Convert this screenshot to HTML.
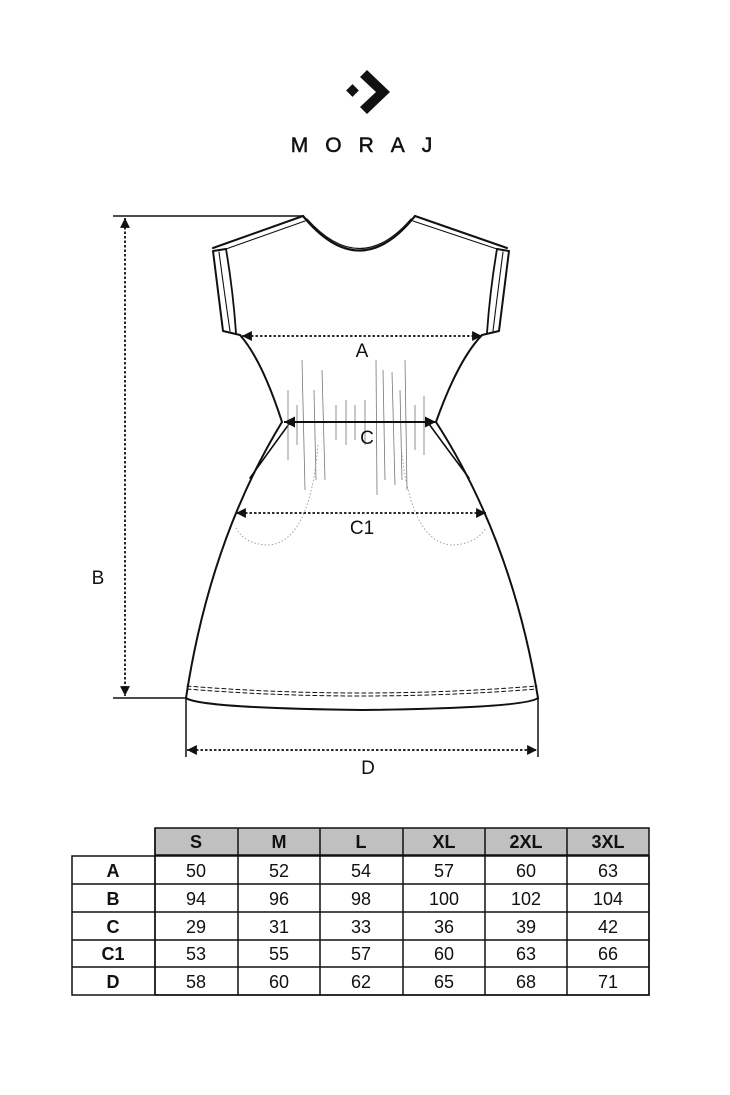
<!DOCTYPE html>
<html><head><meta charset="utf-8"><style>
html,body{margin:0;padding:0;background:#fff;}
body{width:730px;height:1095px;position:relative;overflow:hidden;font-family:"Liberation Sans",Arial,sans-serif;}
</style></head><body>
<svg width="730" height="1095" viewBox="0 0 730 1095" xmlns="http://www.w3.org/2000/svg" style="position:absolute;left:0;top:0">
<defs>
<marker id="ar" viewBox="0 0 10 10" refX="10" refY="5" markerWidth="5.5" markerHeight="5.5" orient="auto-start-reverse"><path d="M0,0 L10,5 L0,10 z" fill="#111"/></marker>
</defs>
<!-- logo -->
<rect x="348" y="86" width="9" height="9" fill="#111" transform="rotate(45 352.5 90.5)"/>
<path d="M367,70 L390,92 L367,114 L360,107 L376,92 L360,77 Z" fill="#111"/>
<text x="370" y="152" font-size="21" text-anchor="middle" letter-spacing="17" fill="#111" stroke="#111" stroke-width="0.5" font-family="Liberation Sans, sans-serif">MORAJ</text>

<g fill="none" stroke="#111" stroke-linecap="round" stroke-linejoin="round">
<path d="M303,216 Q360,285 415,216" stroke-width="2.2"/>
<path d="M307,219 Q360,278 411,219" stroke-width="1.2"/>
<path d="M303,216 L213,248" stroke-width="2"/>
<path d="M305,221 L226,249" stroke-width="1.1"/>
<path d="M415,216 L507,248" stroke-width="2"/>
<path d="M413,221 L497,249" stroke-width="1.1"/>
<path d="M226,249 L213,251 L223,331 L240,335" stroke-width="2"/>
<path d="M226,249 Q233,290 236,333" stroke-width="1.8"/>
<path d="M219,252 Q224,290 230,331" stroke-width="1.1"/>
<path d="M497,249 L509,251 L499,331 L482,335" stroke-width="2"/>
<path d="M497,249 Q490,290 487,333" stroke-width="1.8"/>
<path d="M503,252 Q498,290 493,331" stroke-width="1.1"/>
<path d="M240,335 Q262,360 282,422" stroke-width="2"/>
<path d="M482,335 Q458,360 436,422" stroke-width="2"/>
<path d="M282,422 Q210,540 186,698" stroke-width="2"/>
<path d="M436,422 Q512,540 538,698" stroke-width="2"/>
<path d="M289,424 Q270,450 250,478" stroke-width="1.6"/>
<path d="M429,424 Q448,450 469,478" stroke-width="1.6"/>
<path d="M186,698 Q200,708 362,710 Q525,708 538,698" stroke-width="2"/>
<path d="M187,686 Q360,700 537,686" stroke-width="1" stroke-dasharray="4,3"/>
<path d="M187,689 Q360,703 537,689" stroke-width="1" stroke-dasharray="4,3"/>
</g>
<g stroke="#777" stroke-width="0.8">
<line x1="288" y1="390" x2="288" y2="460"/><line x1="297" y1="405" x2="297" y2="445"/>
<line x1="302" y1="360" x2="305" y2="490"/><line x1="314" y1="390" x2="316" y2="480"/>
<line x1="322" y1="370" x2="325" y2="480"/><line x1="336" y1="405" x2="336" y2="440"/>
<line x1="346" y1="400" x2="346" y2="445"/><line x1="355" y1="405" x2="355" y2="440"/>
<line x1="365" y1="400" x2="365" y2="445"/><line x1="376" y1="360" x2="377" y2="495"/>
<line x1="383" y1="370" x2="385" y2="480"/><line x1="392" y1="372" x2="395" y2="485"/>
<line x1="400" y1="390" x2="402" y2="480"/><line x1="405" y1="360" x2="407" y2="490"/>
<line x1="415" y1="405" x2="415" y2="450"/><line x1="424" y1="396" x2="424" y2="455"/>
</g>
<g fill="none" stroke="#999" stroke-width="0.9" stroke-dasharray="1.5,2">
<path d="M318,445 Q310,540 270,545 Q245,545 236,528"/>
<path d="M401,445 Q410,540 450,545 Q475,545 486,528"/>
</g>
<g stroke="#111" fill="none">
<line x1="113" y1="216" x2="303" y2="216" stroke-width="1.5"/>
<line x1="113" y1="698" x2="186" y2="698" stroke-width="1.5"/>
<line x1="125" y1="218" x2="125" y2="696" stroke-width="1.8" stroke-dasharray="2.5,2" marker-start="url(#ar)" marker-end="url(#ar)"/>
<line x1="242" y1="336" x2="482" y2="336" stroke-width="1.8" stroke-dasharray="2.5,2" marker-start="url(#ar)" marker-end="url(#ar)"/>
<line x1="284" y1="422" x2="436" y2="422" stroke-width="2" marker-start="url(#ar)" marker-end="url(#ar)"/>
<line x1="236" y1="513" x2="486" y2="513" stroke-width="1.8" stroke-dasharray="2.5,2" marker-start="url(#ar)" marker-end="url(#ar)"/>
<line x1="186" y1="698" x2="186" y2="757" stroke-width="1.5"/>
<line x1="538" y1="698" x2="538" y2="757" stroke-width="1.5"/>
<line x1="187" y1="750" x2="537" y2="750" stroke-width="1.8" stroke-dasharray="2.5,2" marker-start="url(#ar)" marker-end="url(#ar)"/>
</g>
<g font-size="19" fill="#111" text-anchor="middle">
<text x="98" y="584">B</text>
<text x="362" y="357">A</text>
<text x="367" y="444">C</text>
<text x="362" y="534">C1</text>
<text x="368" y="774">D</text>
</g>
<rect x="155" y="828" width="494" height="27" fill="#c0c0c0"/>
<g stroke="#111" stroke-width="1.5" fill="none">
<rect x="155" y="828" width="494" height="167"/>
<rect x="72" y="856" width="577" height="139"/>
<line x1="155" y1="855" x2="649" y2="855"/>
<line x1="72" y1="884" x2="649" y2="884"/>
<line x1="72" y1="912" x2="649" y2="912"/>
<line x1="72" y1="940" x2="649" y2="940"/>
<line x1="72" y1="967" x2="649" y2="967"/>
<line x1="155" y1="828" x2="155" y2="995"/>
<line x1="238" y1="828" x2="238" y2="995"/>
<line x1="320" y1="828" x2="320" y2="995"/>
<line x1="403" y1="828" x2="403" y2="995"/>
<line x1="485" y1="828" x2="485" y2="995"/>
<line x1="567" y1="828" x2="567" y2="995"/>
</g>
<g font-size="18" fill="#111" text-anchor="middle" font-weight="bold">
<text x="196" y="848">S</text><text x="279" y="848">M</text><text x="361" y="848">L</text><text x="444" y="848">XL</text><text x="526" y="848">2XL</text><text x="608" y="848">3XL</text>
<text x="113" y="877">A</text><text x="113" y="905">B</text><text x="113" y="933">C</text><text x="113" y="960">C1</text><text x="113" y="988">D</text>
</g>
<g font-size="18" fill="#111" text-anchor="middle">
<text x="196" y="877">50</text><text x="279" y="877">52</text><text x="361" y="877">54</text><text x="444" y="877">57</text><text x="526" y="877">60</text><text x="608" y="877">63</text>
<text x="196" y="905">94</text><text x="279" y="905">96</text><text x="361" y="905">98</text><text x="444" y="905">100</text><text x="526" y="905">102</text><text x="608" y="905">104</text>
<text x="196" y="933">29</text><text x="279" y="933">31</text><text x="361" y="933">33</text><text x="444" y="933">36</text><text x="526" y="933">39</text><text x="608" y="933">42</text>
<text x="196" y="960">53</text><text x="279" y="960">55</text><text x="361" y="960">57</text><text x="444" y="960">60</text><text x="526" y="960">63</text><text x="608" y="960">66</text>
<text x="196" y="988">58</text><text x="279" y="988">60</text><text x="361" y="988">62</text><text x="444" y="988">65</text><text x="526" y="988">68</text><text x="608" y="988">71</text>
</g>
</svg>
</body></html>
